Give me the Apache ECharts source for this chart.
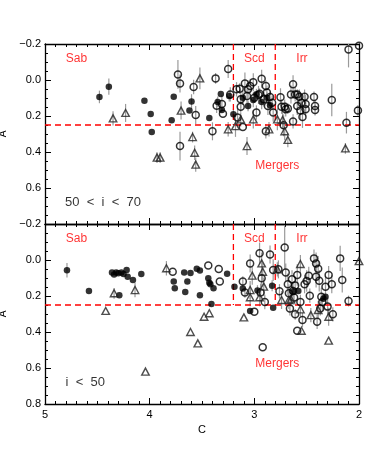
<!DOCTYPE html>
<html><head><meta charset="utf-8">
<script src="https://cdn.jsdelivr.net/npm/echarts@6/dist/echarts.min.js"></script>
<style>html,body{margin:0;padding:0;background:#fff}#c{width:374px;height:449px}</style>
</head><body><div id="c"></div>
<script>
// ---------- data: [C, A, error] ----------
const topFilled = [
[4.48,0.094,0.035],[4.39,0.037,0.045],[4.05,0.115,0],[3.99,0.189,0],[3.98,0.289,0],
[3.79,0.224,0],[3.77,0.093,0],[3.62,0.170,0],[3.60,0.119,0.04],[3.43,0.211,0],
[3.35,0.122,0.03],[3.32,0.078,0],[3.31,0.167,0],[3.24,0.089,0.03],[3.20,0.190,0.03],
[3.11,0.098,0.04],[3.06,0.144,0.03],[3.01,0.111,0.04],[2.98,0.079,0.03],[2.93,0.122,0.04],
[2.88,0.098,0.03],[2.85,0.140,0.03]
];
const topOpen = [
[3.73,-0.031,0.08],[3.71,0.020,0.05],[3.71,0.367,0.08],[3.58,0.039,0.04],[3.56,0.194,0.05],
[3.40,0.285,0.05],[3.37,-0.009,0.03],[3.36,0.143,0.04],[3.31,0.133,0.05],[3.30,0.187,0],
[3.25,-0.061,0.05],[3.23,0.080,0.04],[3.17,0.052,0.04],[3.16,0.209,0.05],[3.14,0.048,0.03],
[3.13,0.107,0.05],[3.13,0.148,0.03],[3.11,0.261,0],[3.09,0.019,0.06],[3.07,0.089,0.04],
[3.06,0.052,0.05],[3.04,0.033,0.04],[3.01,0.013,0.05],[3.00,0.098,0.03],[2.98,0.181,0.04],
[2.96,0.083,0.05],[2.95,0.076,0.03],[2.93,-0.007,0.05],[2.91,0.107,0.04],[2.89,0.285,0.04],
[2.89,0.033,0.03],[2.88,0.070,0.04],[2.87,0.144,0.05],[2.85,0.094,0.03],[2.83,0.126,0.04],
[2.82,0.181,0.05],[2.75,0.096,0.05],[2.74,0.148,0.04],[2.72,0.252,0.06],[2.71,0.148,0.04],
[2.70,0.163,0.04],[2.68,0.159,0.03],[2.65,0.081,0.05],[2.63,0.024,0.05],[2.63,0.230,0.04],
[2.61,0.080,0.04],[2.59,0.081,0.03],[2.59,0.144,0.05],[2.57,0.093,0.04],[2.56,0.170,0.05],
[2.55,0.126,0.04],[2.54,0.206,0.06],[2.52,0.093,0.04],[2.51,0.133,0.05],[2.51,0.163,0.04],
[2.43,0.094,0.03],[2.42,0.144,0.03],[2.42,0.167,0.03],[2.26,0.111,0.09],[2.12,0.237,0.06],
[2.10,-0.170,0.10],[2.01,0.169,0.03],[2.00,-0.190,0]
];
const topTri = [
[4.35,0.213,0.04],[4.23,0.183,0.05],[3.93,0.431,0.03],[3.90,0.431,0.03],[3.70,0.170,0.05],
[3.59,0.317,0.03],[3.57,0.404,0.04],[3.56,0.470,0.04],[3.52,-0.009,0.06],[3.25,0.274,0.04],
[3.18,0.256,0.06],[3.13,0.219,0.04],[3.07,0.367,0.05],[3.01,0.219,0.05],[2.86,0.274,0.04],
[2.78,0.219,0.06],[2.73,0.222,0.05],[2.71,0.285,0.05],[2.68,0.333,0.04],[2.13,0.380,0.03]
];
const botFilled = [
[4.79,0.057,0.04],[4.58,0.172,0],[4.36,0.069,0],[4.34,0.081,0],[4.32,0.069,0],
[4.30,0.074,0],[4.29,0.196,0],[4.27,0.070,0],[4.25,0.078,0],[4.22,0.056,0],
[4.21,0.093,0],[4.16,0.111,0],[4.08,0.078,0],[3.77,0.120,0],[3.76,0.157,0],
[3.67,0.069,0],[3.66,0.178,0],[3.64,0.120,0],[3.61,0.072,0],[3.55,0.048,0],
[3.52,0.059,0],[3.52,0.196,0],[3.44,0.102,0],[3.43,0.126,0],[3.42,0.135,0],
[3.41,0.244,0],[3.39,0.157,0],[3.26,0.076,0],[3.19,0.148,0],[3.11,0.159,0],
[3.04,0.283,0],[2.97,0.170,0.03],[2.83,0.143,0.03],[2.82,0.265,0],[2.63,0.176,0.03],
[2.58,0.172,0],[2.34,0.215,0],[2.32,0.204,0]
];
const botOpen = [
[3.78,0.065,0],[3.44,0.030,0],[3.34,0.050,0],[3.33,0.120,0],[3.11,0.120,0.03],
[3.09,0.180,0.03],[3.04,0.020,0.05],[3.00,0.287,0],[2.95,-0.037,0.06],[2.94,0.181,0.05],
[2.93,0.102,0.05],[2.92,0.485,0],[2.90,0.233,0.04],[2.85,-0.030,0.05],[2.82,0.056,0.06],
[2.77,0.052,0.05],[2.76,0.174,0.04],[2.71,-0.070,0.12],[2.70,0.069,0.05],[2.68,0.135,0.06],
[2.67,0.185,0.05],[2.66,0.269,0.04],[2.64,0.107,0.05],[2.63,0.172,0.05],[2.62,0.209,0.04],
[2.61,0.302,0.03],[2.61,0.141,0.05],[2.59,0.083,0.06],[2.59,0.393,0],[2.56,0.233,0.04],
[2.54,0.333,0.04],[2.52,0.135,0.05],[2.50,0.117,0.06],[2.48,0.087,0.05],[2.47,0.198,0.04],
[2.43,-0.009,0.05],[2.41,0.019,0.06],[2.41,0.093,0.06],[2.40,0.343,0.04],[2.39,0.048,0.07],
[2.38,0.115,0.06],[2.37,0.269,0.04],[2.36,0.204,0.05],[2.35,0.233,0.05],[2.32,0.148,0.06],
[2.30,0.259,0.05],[2.29,0.083,0.05],[2.26,0.135,0.05],[2.25,0.302,0.04],[2.18,-0.009,0.07],
[2.16,0.111,0.07],[2.10,0.228,0.03]
];
const botTri = [
[4.42,0.283,0],[4.34,0.185,0.03],[4.14,0.167,0.04],[4.04,0.620,0],[3.84,0.046,0.04],
[3.61,0.400,0],[3.54,0.463,0],[3.48,0.315,0],[3.43,0.296,0],[3.10,0.319,0],
[3.04,0.167,0.05],[3.04,0.207,0.05],[3.02,0.087,0.05],[2.95,0.207,0.05],[2.93,0.019,0.06],
[2.92,0.065,0.05],[2.91,0.148,0.05],[2.78,0.052,0.04],[2.74,0.222,0.05],[2.67,0.222,0.05],
[2.65,0.219,0.04],[2.56,0.274,0.04],[2.56,0.022,0.05],[2.55,0.393,0],[2.46,0.306,0.04],
[2.39,0.278,0.05],[2.29,0.315,0.05],[2.29,0.448,0],[2.00,0.006,0]
];
// class boundaries
const cutA = 0.25;
const cutC = [3.2, 2.8];
// annotations [C, A, text]
const topNotes = [[4.70,-0.119,'Sab'],[3.00,-0.119,'Scd'],[2.545,-0.119,'Irr'],[2.78,0.478,'Mergers'],[4.446,0.678,'50  <  i  <  70']];
const botNotes = [[4.70,-0.117,'Sab'],[3.00,-0.117,'Scd'],[2.545,-0.117,'Irr'],[2.78,0.578,'Mergers'],[4.615,0.682,'i  <  50']];
const xTicks = {min:2, max:5, interval:1};
const yTicks = {min:-0.2, max:0.8, interval:0.2};

// ---------- chart ----------
const FONT = '"Liberation Sans", Helvetica, Arial, sans-serif';
const RED = '#ff0000';
const chart = echarts.init(document.getElementById('c'), null, {renderer:'canvas'});

function xAx(g, pos, labels){
  return {gridIndex:g, type:'value', position:pos, min:xTicks.min, max:xTicks.max, interval:xTicks.interval, inverse:true,
    name: labels ? 'C' : '', nameLocation:'middle', nameGap:20, nameTextStyle:{color:'#000', fontFamily:FONT, fontSize:11},
    axisLine:{show:true, onZero:false, lineStyle:{color:'#000', width:1.3}},
    axisTick:{show:true, inside:true, length:6, lineStyle:{color:'#000', width:1}},
    minorTick:{show:true, splitNumber:10, length:3, lineStyle:{color:'#000', width:1}},
    splitLine:{show:false}, minorSplitLine:{show:false},
    axisLabel:{show:labels, color:'#000', fontFamily:FONT, fontSize:11, margin:5}};
}
function yAx(g, pos, labels, hideTop){
  return {gridIndex:g, type:'value', position:pos, min:yTicks.min, max:yTicks.max, interval:yTicks.interval, inverse:true,
    name: labels ? 'A' : '', nameLocation:'middle', nameGap:27, nameRotate:90, nameTextStyle:{color:'#000', fontFamily:FONT, fontSize:10},
    axisLine:{show:true, onZero:false, lineStyle:{color:'#000', width:1.3}},
    axisTick:{show:true, inside:true, length:6, lineStyle:{color:'#000', width:1}},
    minorTick:{show:true, splitNumber:4, length:3, lineStyle:{color:'#000', width:1}},
    splitLine:{show:false}, minorSplitLine:{show:false},
    axisLabel:{show:labels, color:'#000', fontFamily:FONT, fontSize:11, margin:4,
      formatter: v => (hideTop && Math.abs(v-0.8)<1e-6) ? '' : v.toFixed(1).replace('-', '\u2212')}};
}

function errSeries(data, xi, yi){
  return {type:'custom', xAxisIndex:xi, yAxisIndex:yi, data:data, encode:{x:0,y:1}, z:1, clip:true, silent:true,
    renderItem:(params, api) => {
      const c = api.value(0), a = api.value(1), e = api.value(2);
      if (!e) return null;
      const p1 = api.coord([c, a - e]), p2 = api.coord([c, a + e]);
      return {type:'line', shape:{x1:p1[0], y1:p1[1], x2:p2[0], y2:p2[1]}, style:{stroke:'#9a9a9a', lineWidth:1.2}};
    }};
}
function pts(data, xi, yi, kind){
  const base = {type:'scatter', xAxisIndex:xi, yAxisIndex:yi, data:data.map(d=>[d[0],d[1]]), z:3, clip:true, silent:true};
  if (kind==='filled') return Object.assign(base, {symbol:'circle', symbolSize:6.5, itemStyle:{color:'#000', borderWidth:0}});
  if (kind==='open') return Object.assign(base, {symbol:'circle', symbolSize:7, itemStyle:{color:'rgba(255,255,255,0)', borderColor:'#000', borderWidth:1.5}});
  return Object.assign(base, {symbol:'triangle', symbolSize:[7.5,7], itemStyle:{color:'rgba(255,255,255,0)', borderColor:'#222', borderWidth:1.4}});
}
function dashed(data, xi, yi){
  return {type:'line', xAxisIndex:xi, yAxisIndex:yi, data:data, symbol:'none', z:2, silent:true,
    lineStyle:{color:RED, width:1.3, type:[6,4]}};
}
function noteSeries(data, xi, yi){
  const out = [];
  data.forEach(d => {
    const isRed = d[2].indexOf('<') < 0;
    out.push({type:'scatter', xAxisIndex:xi, yAxisIndex:yi, symbolSize:1, z:5, silent:true,
      data:[{value:[d[0],d[1]], name:d[2]}], itemStyle:{color:'rgba(0,0,0,0)'},
      label:{show:true, position:'inside', fontFamily:FONT, fontSize: isRed ? 12 : 13, color: isRed ? RED : '#000', formatter:p=>p.name}});
  });
  return out;
}

function panel(g, filled, open, tri, nts){
  const xi = g*2, yi = g*2;
  return [
    dashed([[5,cutA],[2,cutA]], xi, yi),
    dashed([[cutC[0],yTicks.min],[cutC[0],cutA]], xi, yi),
    dashed([[cutC[1],yTicks.min],[cutC[1],cutA]], xi, yi),
    errSeries(filled, xi, yi), errSeries(open, xi, yi), errSeries(tri, xi, yi),
    pts(filled, xi, yi, 'filled'), pts(open, xi, yi, 'open'), pts(tri, xi, yi, 'tri'),
    ...noteSeries(nts, xi, yi)
  ];
}

chart.setOption({
  animation:false,
  backgroundColor:'#fff',
  grid:[{left:45, top:44, width:314, height:180, containLabel:false, outerBoundsMode:'none'},
        {left:45, top:224, width:314, height:180, containLabel:false, outerBoundsMode:'none'}],
  xAxis:[xAx(0,'bottom',false), xAx(0,'top',false), xAx(1,'bottom',true), xAx(1,'top',false)],
  yAxis:[yAx(0,'left',true,true), yAx(0,'right',false,false), yAx(1,'left',true,false), yAx(1,'right',false,false)],
  series:[...panel(0, topFilled, topOpen, topTri, topNotes), ...panel(1, botFilled, botOpen, botTri, botNotes)]
});
</script></body></html>
